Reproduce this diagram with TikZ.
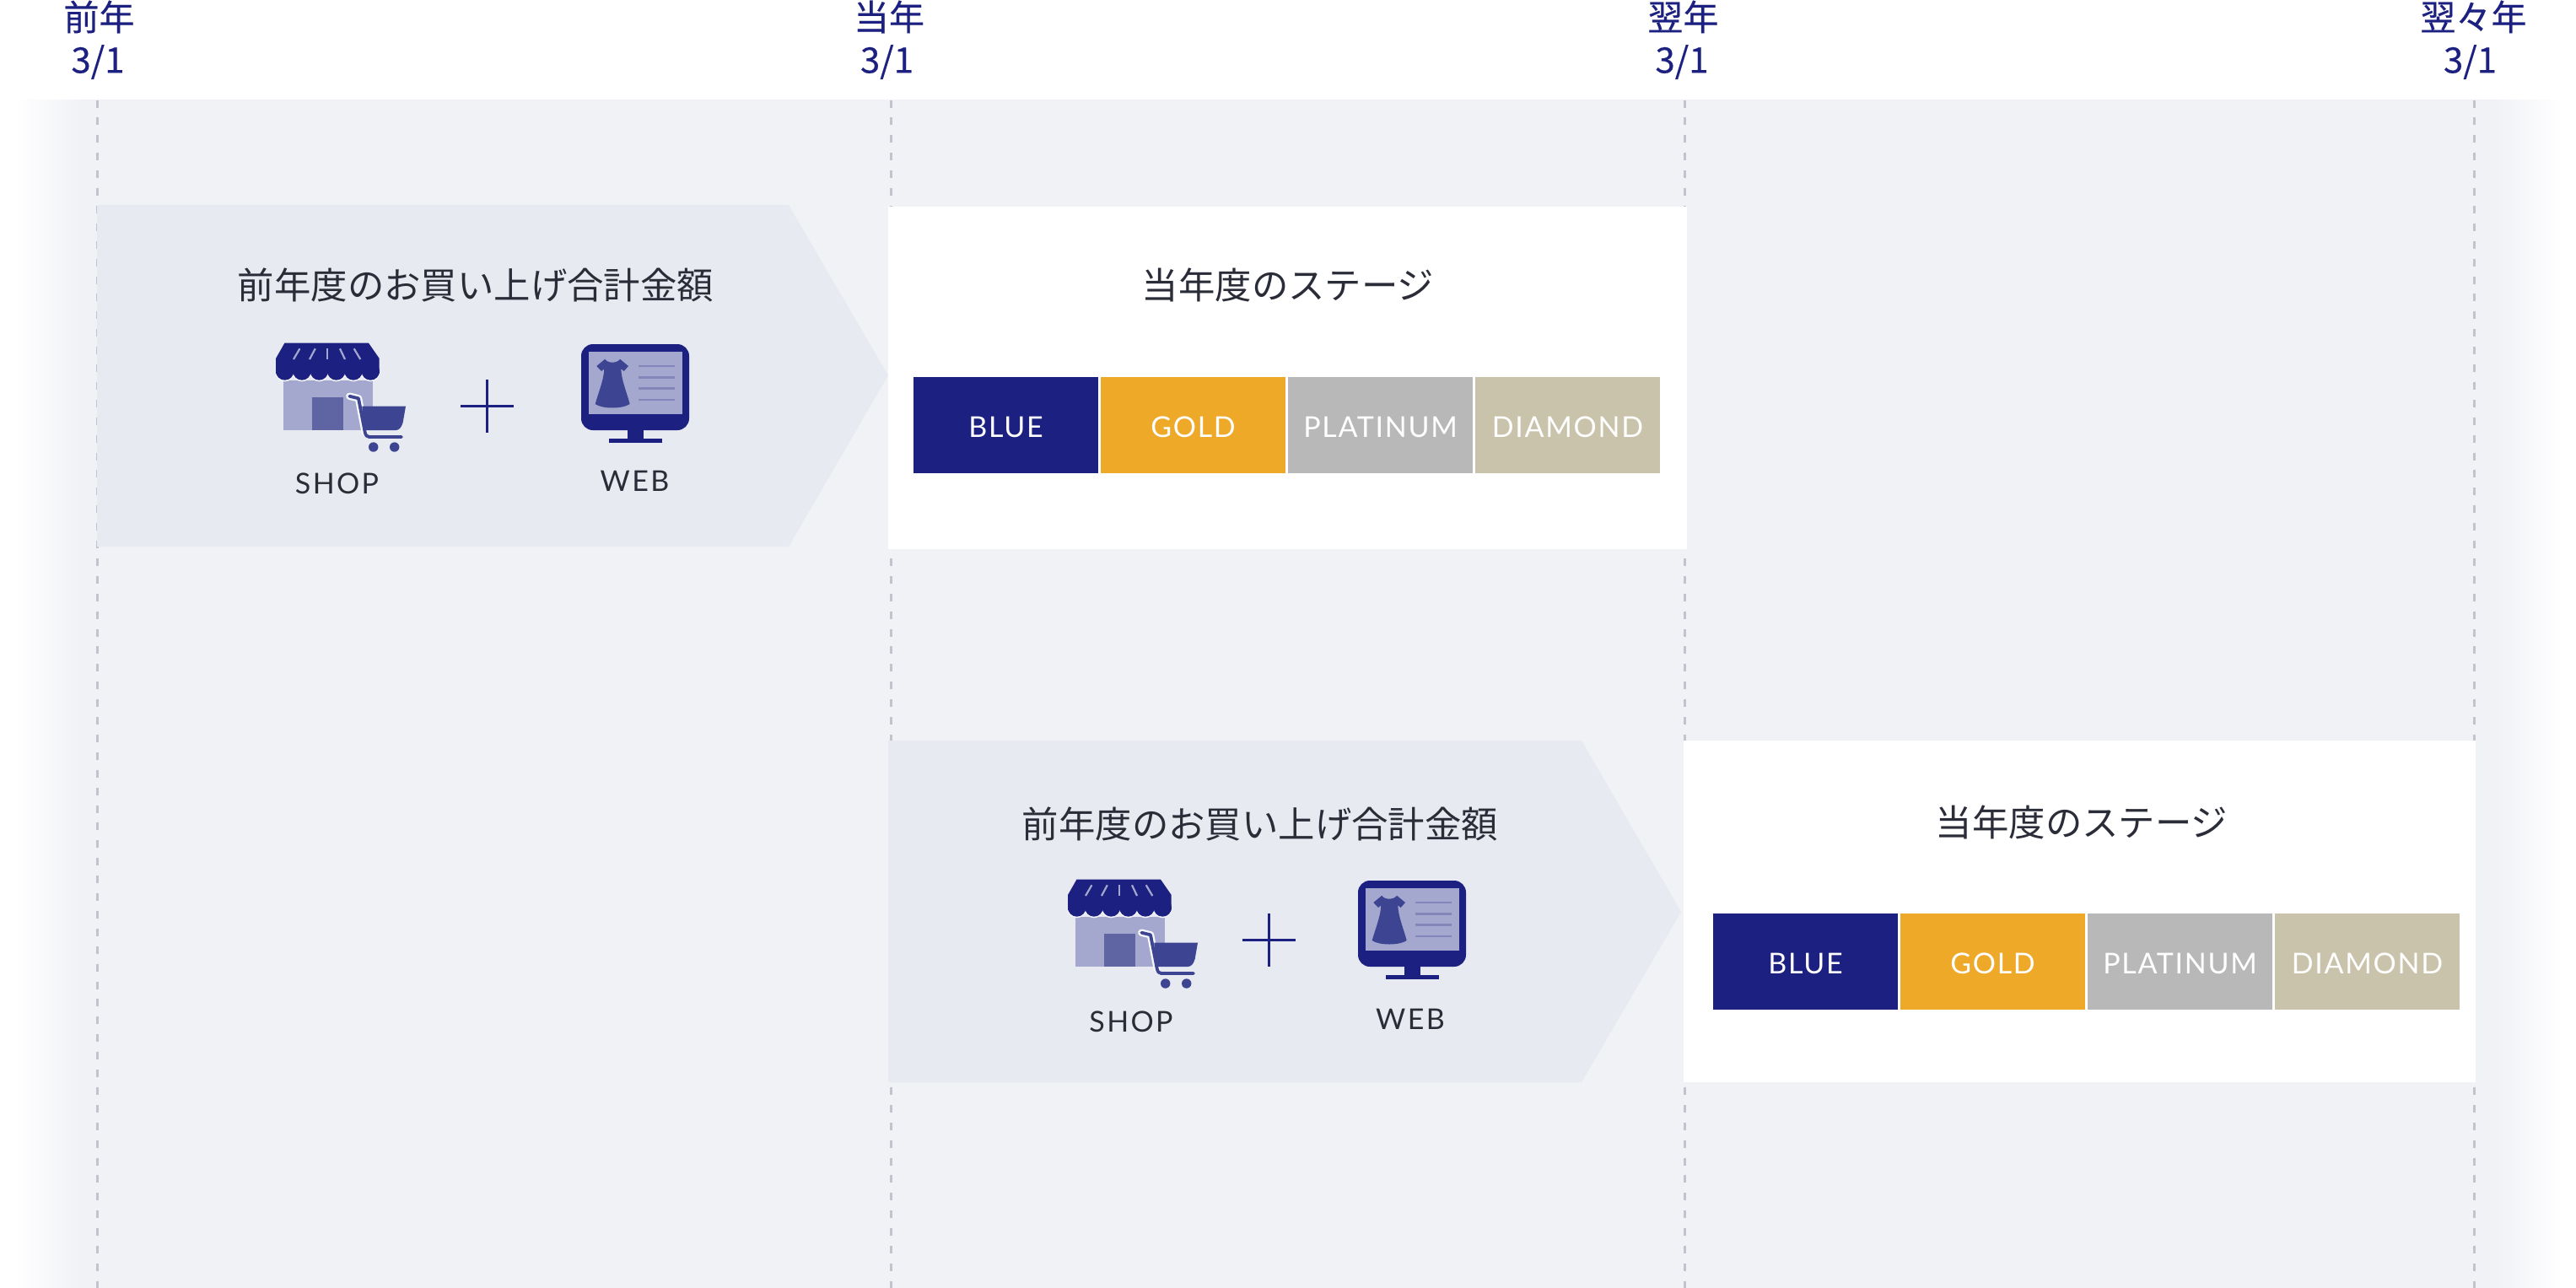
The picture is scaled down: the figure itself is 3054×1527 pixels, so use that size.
\documentclass[tikz,border=0pt]{standalone}
\usepackage{fontspec}
\setmainfont{Lato}
\newfontfamily\jpfont{Noto Sans CJK JP}
\newfontfamily\yearfont[FakeBold = 0.35]{Noto Sans CJK JP}
\definecolor{navyc}{HTML}{1C2080}
\definecolor{midc}{HTML}{3D4593}
\definecolor{doorc}{HTML}{5E65A2}
\definecolor{palec}{HTML}{A4A8CF}
\definecolor{rulec}{HTML}{8286B8}
\definecolor{bandc}{HTML}{F1F2F6}
\definecolor{arrowc}{HTML}{E8EAF2}
\definecolor{haloc}{HTML}{F6F7FA}
\definecolor{dashc}{HTML}{C2C3CD}
\definecolor{inkc}{HTML}{2A2C38}
\definecolor{goldc}{HTML}{EEA928}
\definecolor{platc}{HTML}{B8B8B9}
\definecolor{diac}{HTML}{CAC3AB}
\tikzset{yearlabel/.style = {text = navyc, font = \yearfont\fontsize{21}{21}\selectfont, inner sep = 0}}
\tikzset{headlabel/.style = {text = inkc, font = \jpfont\fontsize{21.7}{21.7}\selectfont, inner sep = 0}}
\tikzset{iconlabel/.style = {text = inkc, font = \fontsize{17}{17}\selectfont\addfontfeatures{LetterSpace=7}, inner sep = 0}}
\tikzset{stagebox/.style = {text = white, inner sep = 0, text height = 15, text depth = 0, font = \fontsize{17}{17}\selectfont\addfontfeatures{LetterSpace=5}, minimum width = 109.5, minimum height = 56.8}}
\tikzset{yearline/.style = {dashc, line width = 1.5, dash pattern = on 4.5 off 5.95}}
\newcommand{\shopicon}{
    \fill [palec] (335.5,451) rectangle (442,510);
    \fill [doorc] (369.5,471) rectangle (407,510);
    \foreach \sx in {337.7,358,378.4,398.7,419,439.3}
        \fill [haloc] (\sx,441) circle [radius = 11.3];
    \fill [navyc] (337.4,406.7) -- (437,406.7) -- (449.7,425) -- (449.7,443) -- (327,443) -- (327,425) -- cycle;
    \foreach \sx in {337.7,358,378.4,398.7,419,439.3}
        \fill [navyc] (\sx,440) circle [radius = 10.7];
    \foreach \sa/\sb in {355.4/348,373.8/367,388.3/388.3,403/409,419.7/427.3}
        \draw [palec, line width = 1.1] (\sa,413.3) -- (\sb,426);
    \draw [haloc, line width = 4.2, line cap = round, line join = round] (414.3,469.7) -- (425,472.3) -- (432.7,512.3);
    \fill [midc] (429.3,481.7) -- (481,481.7) -- (477.7,500.7) .. controls (476,507) and (473,510) .. (469.3,510) -- (430.7,510) -- cycle;
    \draw [midc, line width = 1.9, line cap = round, line join = round] (414.3,469.7) -- (425,472.3) -- (432.7,512.3) .. controls (433.5,516) and (435,518) .. (437.7,518) -- (476,518);
    \fill [midc] (442.7,530) circle [radius = 5.7];
    \fill [midc] (467.7,530) circle [radius = 5.7];
}
\newcommand{\webicon}{
    \fill [navyc, rounded corners = 7] (689,408) rectangle (817,510);
    \fill [palec] (698,417) rectangle (808.5,491);
    \fill [navyc] (744,510) rectangle (763,520);
    \fill [navyc] (722,520) rectangle (785,525);
    \fill [midc] (717.3,425.7) .. controls (720,431) and (732,431) .. (735,425.7) -- (745,434) -- (739.7,440) -- (736.3,437.3)
        .. controls (736.5,450) and (743,465) .. (746.7,479) .. controls (738,485) and (714,485) .. (705.7,479)
        .. controls (709.5,465) and (716,450) .. (716.3,437.3) -- (713,440) -- (707.3,434) -- cycle;
    \foreach \ly in {434,447.3,460.7,474}
        \draw [rulec, line width = 1.35] (757,\ly) -- (800.3,\ly);
}
\begin{document}
\begin{tikzpicture}[x=0.5pt, y=-0.5pt]
    \useasboundingbox (0,0) rectangle (3054,1527);
    % band
    \fill [bandc] (94,118) rectangle (2960,1527);
    \shade [left color = white, right color = bandc] (18,118) rectangle (94.5,1527);
    \shade [left color = bandc, right color = white] (2959.5,118) rectangle (3040,1527);
    \coordinate (yaTop) at (115,118.5);   \coordinate (yaEnd) at (115,1527);
    \coordinate (ybTop) at (1056,118.5);  \coordinate (ybEnd) at (1056,1527);
    \coordinate (ycTop) at (1997,118.5);  \coordinate (ycEnd) at (1997,1527);
    \coordinate (ydTop) at (2933,118.5);  \coordinate (ydEnd) at (2933,1527);
    \draw [yearline] (yaTop) -- (yaEnd);
    \draw [yearline] (ybTop) -- (ybEnd);
    \draw [yearline] (ycTop) -- (ycEnd);
    \draw [yearline] (ydTop) -- (ydEnd);
    % year labels
    \node [yearlabel] (yaName) at (117.5,20) {前年};
    \node [yearlabel] (yaDate) at (116,73.5) {3/1};
    \node [yearlabel] (ybName) at (1054,20) {当年};
    \node [yearlabel] (ybDate) at (1051.5,73.5) {3/1};
    \node [yearlabel] (ycName) at (1995.5,20) {翌年};
    \node [yearlabel] (ycDate) at (1994,73.5) {3/1};
    \node [yearlabel] (ydName) at (2932.5,20) {翌々年};
    \node [yearlabel] (ydDate) at (2928.5,73.5) {3/1};
    % first row
    \fill [arrowc] (115,243) -- (935,243) -- (1053,445) -- (935,648) -- (115,648) -- cycle;
    \fill [white] (1053,245) rectangle (2000,651);
    \node [headlabel] (totalA) at (564,338) {前年度のお買い上げ合計金額};
    \node [headlabel] (stageA) at (1527,338) {当年度のステージ};
    \shopicon
    \webicon
    \draw [navyc, line width = 1.5] (546,481) -- (609,481);
    \draw [navyc, line width = 1.5] (577,450) -- (577,512.7);
    \node [iconlabel] (shopA) at (399.5,573) {SHOP};
    \node [iconlabel] (webA) at (752.5,570) {WEB};
    \node [stagebox, fill = navyc] (blueA) at (1192.5,503.8) {BLUE};
    \node [stagebox, fill = goldc] (goldA) at (1414.5,503.8) {GOLD};
    \node [stagebox, fill = platc] (platA) at (1636.5,503.8) {PLATINUM};
    \node [stagebox, fill = diac] (diaA) at (1858.5,503.8) {DIAMOND};
    % second row
    \fill [arrowc] (1053,878) -- (1875,878) -- (1993,1081) -- (1875,1283) -- (1053,1283) -- cycle;
    \fill [white] (1996,878) rectangle (2935,1283.3);
    \node [headlabel] (totalB) at (1494,977) {前年度のお買い上げ合計金額};
    \node [headlabel] (stageB) at (2468,975) {当年度のステージ};
    \begin{scope}[shift = {(939,636)}]
        \shopicon
    \end{scope}
    \begin{scope}[shift = {(921,636)}]
        \webicon
    \end{scope}
    \draw [navyc, line width = 1.5] (1472.7,1114.3) -- (1536,1114.3);
    \draw [navyc, line width = 1.5] (1504.3,1082.7) -- (1504.3,1146);
    \node [iconlabel] (shopB) at (1341,1211.5) {SHOP};
    \node [iconlabel] (webB) at (1672,1208.5) {WEB};
    \node [stagebox, fill = navyc] (blueB) at (2140.5,1139.8) {BLUE};
    \node [stagebox, fill = goldc] (goldB) at (2362.5,1139.8) {GOLD};
    \node [stagebox, fill = platc] (platB) at (2584.5,1139.8) {PLATINUM};
    \node [stagebox, fill = diac] (diaB) at (2806.5,1139.8) {DIAMOND};
\end{tikzpicture}
\end{document}
